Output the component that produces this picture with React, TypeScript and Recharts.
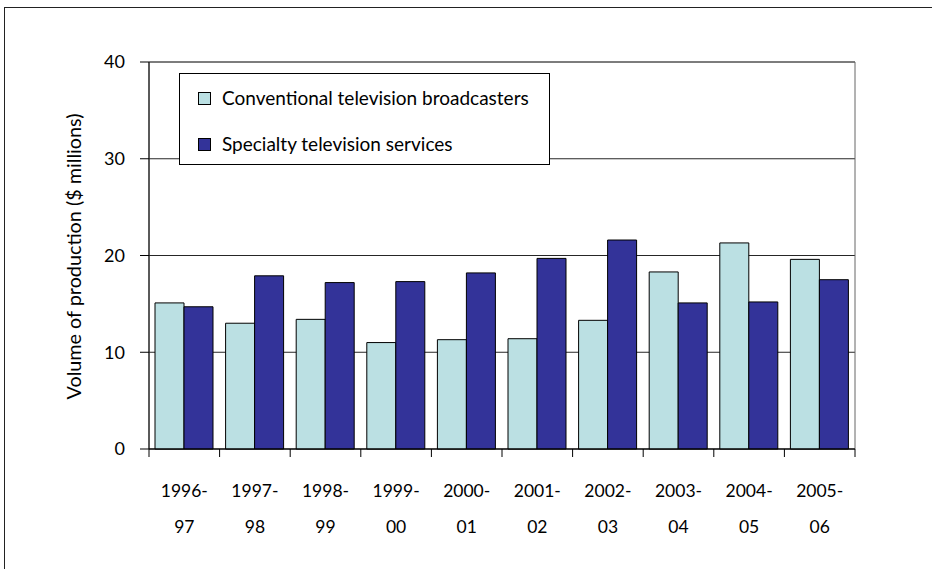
import React from "react";
import { BarChart, Bar, XAxis, YAxis, CartesianGrid, Legend, ReferenceArea } from "recharts";

const categories = ["1996-97", "1997-98", "1998-99", "1999-00", "2000-01", "2001-02", "2002-03", "2003-04", "2004-05", "2005-06"];
const conventional = [15.1, 13.0, 13.4, 11.0, 11.3, 11.4, 13.3, 18.3, 21.3, 19.6];
const specialty = [14.7, 17.9, 17.2, 17.3, 18.2, 19.7, 21.6, 15.1, 15.2, 17.5];
const yTicks = [0, 10, 20, 30, 40];
const seriesNames = ["Conventional television broadcasters", "Specialty television services"];
const yLabel = "Volume of production ($ millions)";

const LIGHT = "#BBE0E3";
const DARK = "#333399";
const FONT = "Lato, 'Open Sans', sans-serif";

const data = categories.map((c, i) => ({ cat: c, conv: conventional[i], spec: specialty[i] }));

const XTick = (props: any) => {
  const { x, y, payload, index, visibleTicksCount } = props;
  const half = payload && payload.offset ? payload.offset : 35.3;
  const [a, b] = String(payload.value).split("-");
  const axisY = y - 10;
  return (
    <g>
      <line x1={x - half} x2={x - half} y1={axisY} y2={axisY + 8} stroke="#000" />
      {index === visibleTicksCount - 1 && (
        <line x1={x + half} x2={x + half} y1={axisY} y2={axisY + 8} stroke="#000" />
      )}
      <text x={x} y={y + 38} textAnchor="middle" fontFamily={FONT} fontSize={17.5} fill="#000">{a + "-"}</text>
      <text x={x} y={y + 74} textAnchor="middle" fontFamily={FONT} fontSize={17.5} fill="#000">{b}</text>
    </g>
  );
};

const LegendBox = () => (
  <div style={{ width: 369, height: 90, border: "1px solid #000", background: "#fff", position: "relative", fontFamily: FONT, fontSize: 19, color: "#000" }}>
    {seriesNames.map((n, i) => (
      <div key={n} style={{ position: "absolute", left: 18, top: i === 0 ? 14 : 60, display: "flex", alignItems: "center", whiteSpace: "nowrap" }}>
        <span style={{ display: "inline-block", width: 11, height: 11, border: "1px solid #000", background: i === 0 ? LIGHT : DARK, marginRight: 11 }} />
        <span style={{ lineHeight: "20px" }}>{n}</span>
      </div>
    ))}
  </div>
);

const YLabel = (props: any) => {
  const vb = props.viewBox || { x: 89, y: 62, width: 60, height: 387 };
  const cy = vb.y + vb.height / 2 + 1;
  const cx = 73;
  return (
    <text x={cx} y={cy} transform={`rotate(-90, ${cx}, ${cy})`} textAnchor="middle" dominantBaseline="central" fontFamily={FONT} fontSize={19.8} fill="#000">
      {yLabel}
    </text>
  );
};

export default function App() {
  return (
    <div style={{ position: "fixed", left: 0, top: 0, width: 932, height: 569, overflow: "hidden", background: "#fff" }}>
      <div style={{ position: "absolute", left: 4, top: 7, width: 1200, height: 1200, border: "1px solid #222" }} />
      <div style={{ position: "absolute", left: 0, top: 0 }}>
        <BarChart width={932} height={569} data={data} margin={{ top: 62, right: 77, bottom: 0, left: 89 }} barCategoryGap="8.5%" barGap={0}>
          <CartesianGrid vertical={false} stroke="#000" strokeOpacity={0.85} />
          <ReferenceArea y1={0} y2={40} fill="none" stroke="#666" strokeWidth={1} ifOverflow="visible" />
          <XAxis dataKey="cat" tickLine={false} tick={<XTick />} tickSize={0} tickMargin={10} axisLine={{ stroke: "#000" }} interval={0} height={120} />
          <YAxis domain={[0, 40]} ticks={yTicks} width={60} tickSize={9} tickMargin={15} axisLine={{ stroke: "#000" }} tickLine={{ stroke: "#000" }} tick={{ fill: "#000", fontFamily: FONT, fontSize: 18 }} label={<YLabel />} />
          <Legend layout="horizontal" verticalAlign="middle" align="center" content={<LegendBox />} wrapperStyle={{ left: 179, top: 73, width: 371, height: 92 }} />
          <Bar dataKey="conv" name={seriesNames[0]} fill={LIGHT} stroke="#000" strokeWidth={1} isAnimationActive={false} />
          <Bar dataKey="spec" name={seriesNames[1]} fill={DARK} stroke="#000" strokeWidth={1} isAnimationActive={false} />
        </BarChart>
      </div>
    </div>
  );
}
